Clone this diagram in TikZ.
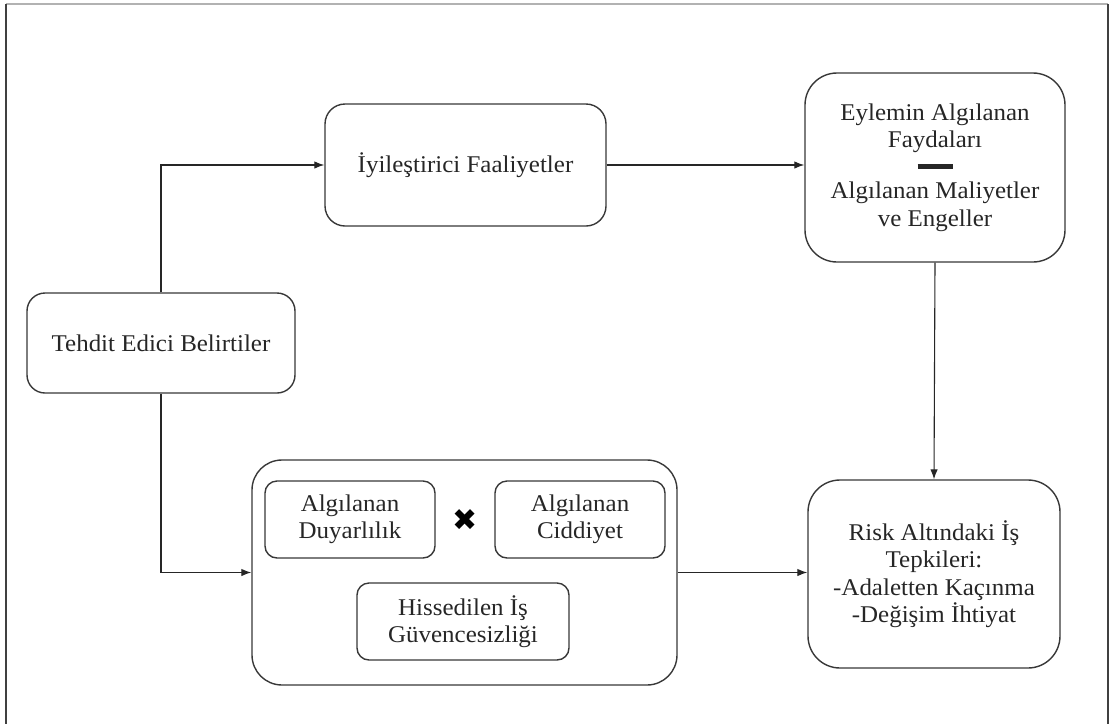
\documentclass[tikz,border=0pt]{standalone}
\usepackage{fontspec}
\setmainfont[FakeStretch=1.04]{Liberation Serif}
\newfontfamily\symbfont{DejaVu Sans}
\usetikzlibrary{arrows.meta}
\begin{document}
\begin{tikzpicture}[x=1pt,y=-1pt,
  box/.style={draw=black!78, line width=1.4pt, inner sep=0pt, align=center,
    text=black!85, font=\fontsize{24}{27.5}\selectfont},
  arr/.style={draw=black!85, line width=1.1pt, -{Latex[length=10pt,width=7.5pt]}}]
\useasboundingbox (0,0) rectangle (1109,724);
% page frame
\draw[black!30, line width=1.6pt] (6,4) -- (1108,4);
\draw[black!75, line width=1.4pt] (6,4) -- (6,724);
\draw[black!75, line width=1.4pt] (1108,4) -- (1108,724);

% main boxes
\node[box, rounded corners=18pt, minimum width=268pt, minimum height=100pt]
  (threat) at (161,343) {Tehdit Edici Belirtiler};
\node[box, rounded corners=20pt, minimum width=281pt, minimum height=122pt]
  (remedial) at (465.5,165) {İyileştirici Faaliyetler};
\node[box, rounded corners=32pt, minimum width=260pt, minimum height=189pt]
  (benefit) at (935,167.5) {Eylemin Algılanan\\Faydaları\\[-2pt]\rule[4pt]{35pt}{5pt}\\[-2pt]Algılanan Maliyetler\\ve Engeller};
\node[box, rounded corners=30pt, minimum width=425pt, minimum height=225pt]
  (threatbox) at (464.5,572.5) {};
\node[box, rounded corners=32pt, minimum width=252pt, minimum height=188pt]
  (risk) at (934,574) {Risk Altındaki İş\\Tepkileri:\\-Adaletten Kaçınma\\-Değişim İhtiyat};

% inner boxes of the threat appraisal
\node[box, rounded corners=12pt, minimum width=170pt, minimum height=77pt]
  (suscept) at (350,519.5) {Algılanan\\Duyarlılık};
\node[box, rounded corners=12pt, minimum width=170pt, minimum height=77pt]
  (severity) at (580,519.5) {Algılanan\\Ciddiyet};
\node[box, rounded corners=12pt, minimum width=212pt, minimum height=77pt]
  (insecure) at (463,621.5) {Hissedilen İş\\Güvencesizliği};
\node[text=black, font=\symbfont\fontsize{30}{30}\selectfont, inner sep=0pt]
  (times) at (465,520) {✖};

% connectors
\draw[arr] (threat.north) |- (remedial.west);
\draw[arr] (threat.south) |- (threatbox.west);
\draw[arr] (remedial.east) -- (remedial.east -| benefit.west);
\draw[arr] (benefit.south) -- (risk.north);
\draw[arr] (threatbox.east) -- (threatbox.east -| risk.west);
\end{tikzpicture}
\end{document}
